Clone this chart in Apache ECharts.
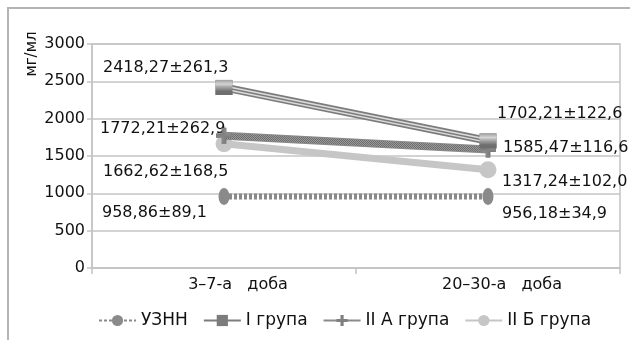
<!DOCTYPE html>
<html>
<head>
<meta charset="utf-8">
<script src="https://cdn.jsdelivr.net/npm/echarts@6/dist/echarts.min.js"></script>
<style>
  html, body { margin: 0; padding: 0; background: #ffffff; }
  #chart { width: 630px; height: 340px; }
</style>
</head>
<body>
<div id="chart"></div>
<script>
// Categories (study periods) and tick values
const categories = ['3–7-а   доба', '20–30-а   доба'];
const yTicks = [0, 500, 1000, 1500, 2000, 2500, 3000];

// Means and standard deviations per group, мг/мл
const uznnMean = [958.86, 956.18];
const uznnSd = [89.1, 34.9];
const group1Mean = [2418.27, 1702.21];
const group1Sd = [261.3, 122.6];
const group2aMean = [1772.21, 1585.47];
const group2aSd = [262.9, 116.6];
const group2bMean = [1662.62, 1317.24];
const group2bSd = [168.5, 102.0];

const seriesNames = ['УЗНН', 'I група', 'II А група', 'II Б група'];

const FONT = 'DejaVu Sans';

function fmt(v, d) { return v.toFixed(d).replace('.', ','); }

function makeLabel(means, sds) {
  return {
    show: true,
    position: 'inside',
    align: 'left',
    verticalAlign: 'middle',
    fontFamily: FONT,
    fontSize: 16,
    color: '#111',
    formatter: p => fmt(means[p.dataIndex], 2) + '±' + fmt(sds[p.dataIndex], 1)
  };
}

function withLabels(means, offsets) {
  return means.map((v, i) => ({
    value: v,
    label: { offset: offsets[i] }
  }));
}

// striped fill for the I група marker
function stripePattern(dark, light, period, darkRows) {
  const c = document.createElement('canvas');
  c.width = 4; c.height = period;
  const ctx = c.getContext('2d');
  ctx.fillStyle = light; ctx.fillRect(0, 0, 4, period);
  ctx.fillStyle = dark; ctx.fillRect(0, 0, 4, darkRows);
  return { image: c, repeat: 'repeat' };
}
// fine dotted texture for the II А група line
function dotPattern() {
  const c = document.createElement('canvas');
  c.width = 2; c.height = 2;
  const ctx = c.getContext('2d');
  ctx.fillStyle = '#9a9a9a'; ctx.fillRect(0, 0, 2, 2);
  ctx.fillStyle = '#6c6c6c'; ctx.fillRect(0, 0, 1, 1); ctx.fillRect(1, 1, 1, 1);
  return { image: c, repeat: 'repeat' };
}

const crossPath = 'path://M5,0H9V5H14V9H9V14H5V9H0V5H5Z';

const chart = echarts.init(document.getElementById('chart'), null, { renderer: 'canvas' });

const option = {
  backgroundColor: '#ffffff',
  animation: false,
  graphic: [
    { type: 'rect', shape: { x: 8, y: 8, width: 700, height: 400 },
      style: { fill: 'none', stroke: '#b4b4b4', lineWidth: 2 }, silent: true, z: 0 },
    { type: 'text', x: 32, y: 54, rotation: Math.PI / 2,
      style: { text: 'мг/мл', font: '15px "DejaVu Sans"', fill: '#111', align: 'center', verticalAlign: 'middle' } }
  ],
  grid: {
    left: 92, right: 10, top: 44, bottom: 72,
    show: true, borderColor: '#c4c4c4', borderWidth: 1.5, backgroundColor: '#ffffff'
  },
  legend: {
    data: seriesNames,
    left: 93, top: 307,
    itemWidth: 37, itemHeight: 14, itemGap: 15,
    textStyle: { fontFamily: FONT, fontSize: 17, color: '#111' }
  },
  xAxis: {
    type: 'category',
    data: categories,
    boundaryGap: true,
    axisLine: { lineStyle: { color: '#c4c4c4', width: 1.5 } },
    axisTick: { show: true, length: 6, lineStyle: { color: '#c4c4c4', width: 1.5 } },
    axisLabel: { fontFamily: FONT, fontSize: 16, color: '#111', margin: 9, padding: [0, 0, 0, 28] }
  },
  yAxis: {
    type: 'value',
    min: yTicks[0], max: yTicks[yTicks.length - 1], interval: 500,
    axisLine: { show: true, lineStyle: { color: '#c4c4c4', width: 1.5 } },
    axisTick: { show: true, length: 5, lineStyle: { color: '#c4c4c4', width: 1.5 } },
    splitLine: { lineStyle: { color: '#c4c4c4', width: 1.5 } },
    axisLabel: { fontFamily: FONT, fontSize: 16, color: '#111', margin: 7, formatter: v => String(v) }
  },
  series: [
    {
      name: 'УЗНН', type: 'line', z: 3,
      data: withLabels(uznnMean, [[-122, 16], [14, 17]]),
      symbol: 'circle', symbolSize: [11, 17],
      itemStyle: { color: '#8a8a8a' },
      lineStyle: { color: '#8a8a8a', width: 6, type: [3, 2] },
      label: makeLabel(uznnMean, uznnSd)
    },
    {
      name: 'I група', type: 'line', z: 3,
      data: withLabels(group1Mean, [[-121, -20], [9, -27]]),
      symbol: 'rect', symbolSize: [17, 15],
      itemStyle: { color: '#7c7c7c' },
      lineStyle: { color: '#7c7c7c', width: 8 },
      label: makeLabel(group1Mean, group1Sd)
    },
    {
      name: 'I група', type: 'line', z: 4, silent: true,
      data: group1Mean, symbol: 'none',
      lineStyle: { color: '#dcdcdc', width: 4.5 }
    },
    {
      name: 'I група', type: 'line', z: 4, silent: true,
      data: group1Mean, symbol: 'none',
      lineStyle: { color: '#7c7c7c', width: 1.5 }
    },
    {
      name: 'I група', type: 'line', z: 5, silent: true,
      data: group1Mean, symbol: 'rect', symbolSize: [17, 15], showSymbol: true,
      itemStyle: { color: stripePattern('#6e6e6e', '#d4d4d4', 3, 2) },
      lineStyle: { width: 0, opacity: 0 }
    },
    {
      name: 'II А група', type: 'line', z: 3,
      data: withLabels(group2aMean, [[-124, -7], [15, -2]]),
      symbol: crossPath, symbolSize: 16,
      itemStyle: { color: '#808080' },
      lineStyle: { color: '#8a8a8a', width: 8 },
      label: makeLabel(group2aMean, group2aSd)
    },
    {
      name: 'II А група', type: 'line', z: 4, silent: true,
      data: group2aMean, symbol: crossPath, symbolSize: 16, showSymbol: true,
      itemStyle: { color: dotPattern() },
      lineStyle: { color: dotPattern(), width: 6 }
    },
    {
      name: 'II Б група', type: 'line', z: 2,
      data: withLabels(group2bMean, [[-121, 28], [14, 12]]),
      symbol: 'circle', symbolSize: 17,
      itemStyle: { color: '#c6c6c6' },
      lineStyle: { color: '#c6c6c6', width: 7 },
      label: makeLabel(group2bMean, group2bSd)
    }
  ]
};

chart.setOption(option);
</script>
</body>
</html>
